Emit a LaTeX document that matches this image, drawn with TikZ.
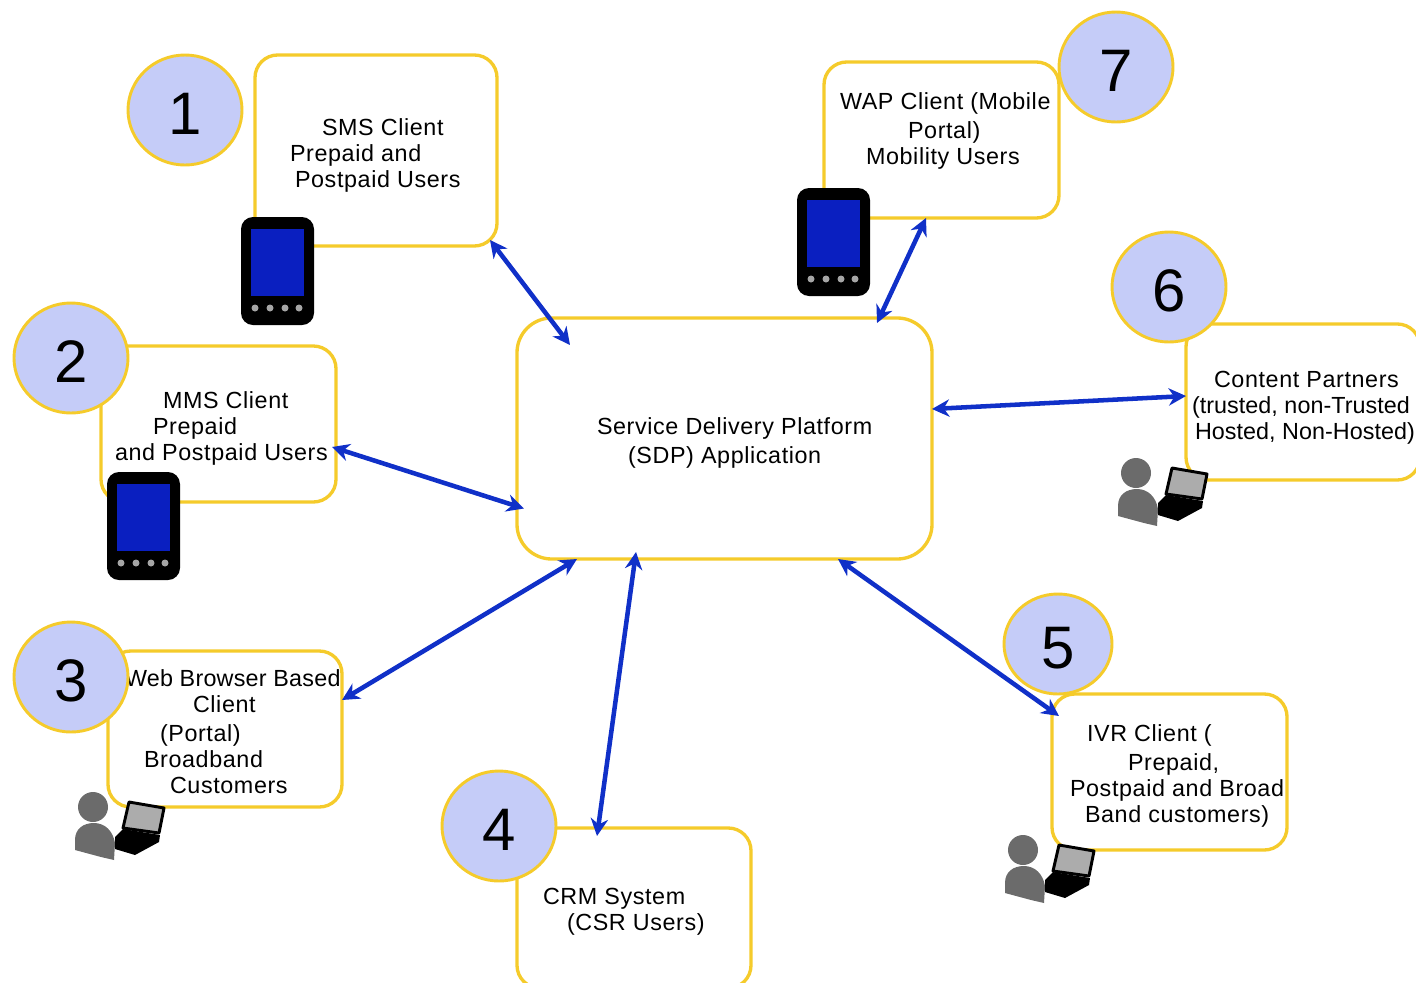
\documentclass[tikz,border=0pt]{standalone}
\usepackage{fontspec}
\setmainfont[LetterSpace=2.6]{Liberation Sans}
\newfontfamily\digitfont{Liberation Sans}
\newfontfamily\tightfont[LetterSpace=0.2]{Liberation Sans}
\newfontfamily\midfont[LetterSpace=1]{Liberation Sans}
\usetikzlibrary{arrows.meta,calc,shapes.geometric}
\definecolor{boxline}{HTML}{F5CB2B}
\definecolor{circfill}{HTML}{C5CCF8}
\definecolor{arrowblue}{HTML}{1030C8}
\definecolor{screenblue}{HTML}{0A1FC0}
\definecolor{persongrey}{HTML}{6B6B6B}
\newdimen\pxunit \pxunit=0.75pt
\newcommand{\tline}[2]{\hspace*{#1\pxunit}#2}
\newcommand{\numtxt}[1]{\raisebox{-3pt}[\height][\depth]{#1}}
\newcommand{\phoneicon}[1]{%
  \begin{scope}[shift={#1}]
    \fill[black,rounded corners=9pt] (0,0) rectangle (73,108);
    \fill[screenblue] (10,12) rectangle (63,79);
    \foreach \dx in {14,29,44,58}{\fill[gray!70] (\dx,91) circle (3.5);}
  \end{scope}}
\newcommand{\usericon}[1]{%
  \begin{scope}[shift={#1}]
    \fill[persongrey] (18,14) circle (15);
    \fill[persongrey] (0,57) -- (0,47) .. controls (0,36) and (8,30) .. (19,30) .. controls (30,30) and (38,38) .. (40,50) -- (39,67) -- (26,64) -- cycle;
    \fill[black,line join=round] (40,44) -- (48,36) -- (85,42) -- (84,49) -- (60,62) -- (40,56) -- cycle;
    \draw[black,fill=gray!65,line width=2.2pt,line join=round] (54,9) -- (89,15) -- (84,40) -- (48,35) -- cycle;
  \end{scope}}
\tikzset{
  x=0.75pt,y=-0.75pt,
  boxnode/.style={draw=boxline,line width=2.5pt,fill=white,rounded corners=17pt,inner sep=0pt,outer sep=0pt},
  numnode/.style={draw=boxline,line width=2.2pt,fill=circfill,ellipse,inner sep=0pt,outer sep=0pt,font=\digitfont\fontsize{45pt}{50pt}\selectfont,minimum width=85.5pt,minimum height=82.5pt},
  labelnode/.style={inner sep=0pt,outer sep=0pt,anchor=north west,align=left,font=\fontsize{17.5pt}{19.5pt}\selectfont},
  link/.style={draw=arrowblue,line width=3.4pt,{Stealth[length=13pt,width=13pt]}-{Stealth[length=13pt,width=13pt]}}
}
\begin{document}
\begin{tikzpicture}
\useasboundingbox (0,0) rectangle (1416,982);
\clip (0,0) rectangle (1416,982);
% boxes
\node[boxnode,minimum width=181.5pt,minimum height=143.25pt] (sms) at (376,150.5) {};
\node[boxnode,minimum width=176.25pt,minimum height=117pt] (mms) at (218.5,424) {};
\node[boxnode,minimum width=175.5pt,minimum height=117pt] (web) at (225,729) {};
\node[boxnode,minimum width=175.5pt,minimum height=120pt] (crm) at (634,908) {};
\node[boxnode,minimum width=176.25pt,minimum height=117pt] (ivr) at (1169.5,772) {};
\node[boxnode,minimum width=175.5pt,minimum height=117pt] (cont) at (1303,402) {};
\node[boxnode,minimum width=176.25pt,minimum height=117pt] (wap) at (941.5,140) {};
\node[boxnode,rounded corners=26pt,minimum width=311.25pt,minimum height=180.75pt] (sdp) at (724.5,438.5) {};
% texts
\node[labelnode] (smstext) at (290,119) {\tline{32}{SMS Client}\\Prepaid and\\\tline{5}{Postpaid Users}};
\node[labelnode] (mmstext) at (115,392) {\tline{48}{MMS Client}\\\tline{38}{Prepaid}\\and Postpaid Users};
\node[labelnode] (webtext) at (125,670) {{\midfont Web Browser Based}\\\tline{68}{Client}\\[2pt]\tline{35}{(Portal)}\\\tline{19}{Broadband}\\\tline{45}{Customers}};
\node[labelnode] (crmtext) at (543,888) {CRM System\\\tline{24}{(CSR Users)}};
\node[labelnode] (ivrtext) at (1070,725) {\tline{17}{IVR Client (}\\[2pt]\tline{58}{Prepaid,}\\Postpaid and Broad\\\tline{15}{Band customers)}};
\node[labelnode] (conttext) at (1192,371) {\tline{22}{Content Partners}\\{\tightfont (trusted, non-Trusted}\\\tline{3}{\tightfont Hosted, Non-Hosted)}};
\node[labelnode] (waptext) at (840,93) {WAP Client (Mobile\\[2pt]\tline{68}{Portal)}\\\tline{26}{Mobility Users}};
\node[labelnode] (sdptext) at (597,418) {Service Delivery Platform\\[2pt]\tline{31}{(SDP) Application}};
% icons
\phoneicon{(241,217)}
\phoneicon{(107,472)}
\phoneicon{(797,188)}
\usericon{(75,793)}
\usericon{(1005,836)}
\usericon{(1118,459)}
% numbered circles
\node[numnode] (n1) at (185,110) {\numtxt{1}};
\node[numnode] (n2) at (71,358) {\numtxt{2}};
\node[numnode] (n3) at (71,677) {\numtxt{3}};
\node[numnode] (n4) at (499,826) {\numtxt{4}};
\node[numnode,minimum width=81pt,minimum height=75pt] (n5) at (1058,644) {\numtxt{5}};
\node[numnode] (n6) at (1169,287) {\numtxt{6}};
\node[numnode] (n7) at (1116,67) {\numtxt{7}};
% connectors
\draw[link] ($(sms.south east)+(-7,-6)$) -- ($(sdp.north west)+(53,27)$);
\draw[link] ($(wap.south west)+(102,0)$) -- ($(sdp.north east)+(-55,5)$);
\draw[link] ($(mms.east)+(-4,23)$) -- ($(sdp.west)+(7,70)$);
\draw[link] ($(sdp.east)+(0,-29.5)$) -- ($(cont.west)+(0,-6)$);
\draw[link] ($(sdp.south west)+(60,0)$) -- ($(web.east)+(0,-29)$);
\draw[link] ($(sdp.south west)+(119,-7)$) -- ($(crm.north west)+(80,8)$);
\draw[link] ($(sdp.south east)+(-94,0)$) -- ($(ivr.north west)+(7,22)$);
\end{tikzpicture}
\end{document}
